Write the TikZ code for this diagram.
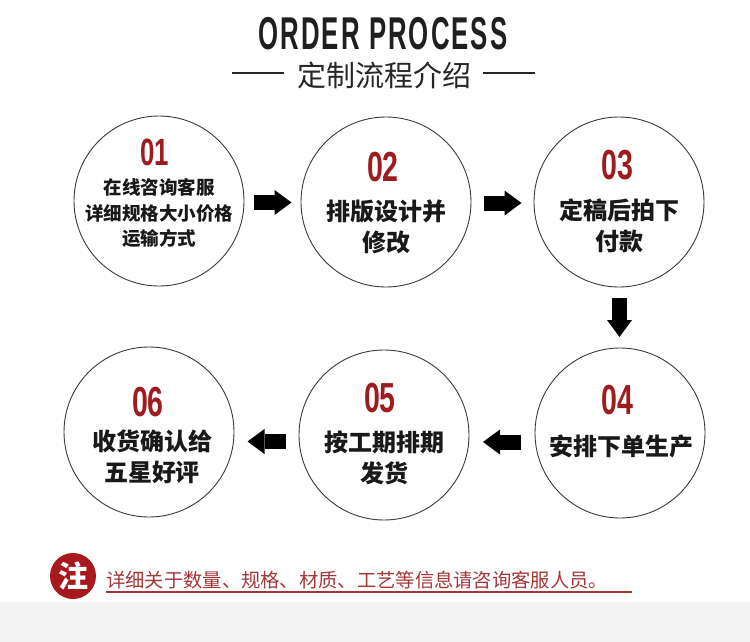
\documentclass[tikz,border=0pt]{standalone}
\usepackage{fontspec}
\usepackage{graphicx}
\setmainfont{Liberation Sans}
\newfontfamily\cjk{Noto Sans CJK SC}
\newfontfamily\headfont{Liberation Sans}[LetterSpace=8]
\usetikzlibrary{arrows.meta,calc}

\definecolor{numred}{HTML}{9E1B20}
\definecolor{notered}{HTML}{A8191E}
\definecolor{notetext}{HTML}{A53638}
\definecolor{ringgray}{HTML}{3A3A3A}
\definecolor{bandgray}{HTML}{F3F3F3}

\newcommand{\narrow}[2]{\scalebox{#1}[1]{#2}}

\begin{document}
\begin{tikzpicture}[x=1pt,y=-1pt,
  ring/.style={circle,draw=ringgray,line width=0.9pt,minimum size=170pt,inner sep=0pt},
  num/.style={text=numred,inner sep=0pt,font=\bfseries\fontsize{42}{42}\selectfont},
  desc/.style={align=center,inner sep=0pt,text=black!90,font=\cjk\bfseries\fontsize{24}{31}\selectfont},
  blockarr/.style={line width=15pt,-{Triangle[length=17pt,width=25pt,line width=0pt]}}]
\useasboundingbox (0,0) rectangle (750,642);

% heading
\node[inner sep=0pt,text=black!88,font=\headfont\bfseries\fontsize{46}{46}\selectfont] (title) at (383,34) {\narrow{0.56}{ORDER PROCESS}};
\node[inner sep=0pt,text=black!85,font=\cjk\fontsize{29}{29}\selectfont] (sub) at (384,75) {定制流程介绍};
\draw[line width=2pt,black!85] ($(sub.west)+(-13,-2)$) -- ++(-52,0);
\draw[line width=2pt,black!85] ($(sub.east)+(12,-2)$) -- ++(52,0);

% steps
\node[ring] (c1) at (159,201) {};
\node[ring] (c2) at (386,202) {};
\node[ring] (c3) at (619,202) {};
\node[ring] (c4) at (620,433) {};
\node[ring] (c5) at (384,435) {};
\node[ring] (c6) at (149,432) {};

\node[num,font=\bfseries\fontsize{38}{38}\selectfont] (n1) at (155,152) {\narrow{0.68}{01}};
\node[num] (n2) at (383,167) {\narrow{0.68}{02}};
\node[num] (n3) at (617,165) {\narrow{0.68}{03}};
\node[num] (n4) at (617,400) {\narrow{0.68}{04}};
\node[num] (n5) at (380,398) {\narrow{0.68}{05}};
\node[num] (n6) at (148,402) {\narrow{0.68}{06}};

\node[desc,font=\cjk\bfseries\fontsize{18.5}{25.5}\selectfont] (t1) at (159,213) {在线咨询客服\\详细规格大小价格\\运输方式};
\node[desc] (t2) at (386,226.5) {排版设计并\\修改};
\node[desc] (t3) at (619,226) {定稿后拍下\\付款};
\node[desc] (t4) at (621,446.5) {安排下单生产};
\node[desc] (t5) at (384,457.5) {按工期排期\\发货};
\node[desc] (t6) at (152,457) {收货确认给\\五星好评};

% arrows between steps
\coordinate (m12) at ($(c1.east)!0.5!(c2.west)+(0,1)$);
\coordinate (m23) at ($(c2.east)!0.5!(c3.west)+(0,1)$);
\coordinate (m34) at ($(c3.south)!0.5!(c4.north)$);
\coordinate (m45) at ($(c5.east)!0.5!(c4.west)+(0,8)$);
\coordinate (m56) at ($(c6.east)!0.5!(c5.west)+(0,8)$);
\draw[blockarr] ($(m12)+(-19,0)$) -- ($(m12)+(19,0)$);
\draw[blockarr] ($(m23)+(-19,0)$) -- ($(m23)+(19,0)$);
\draw[blockarr] ($(m34)+(0,-19.5)$) -- ($(m34)+(0,19.5)$);
\draw[blockarr] ($(m45)+(19,0)$) -- ($(m45)+(-19,0)$);
\draw[blockarr] ($(m56)+(19,0)$) -- ($(m56)+(-19,0)$);

% note
\fill[bandgray] (0,602) rectangle (750,642);
\node[circle,fill=notered,minimum size=46pt,inner sep=0pt,text=white,font=\cjk\bfseries\fontsize{30}{30}\selectfont] (mark) at (73,576) {注};
\node[anchor=west,inner sep=0pt,text=notetext,font=\cjk\fontsize{19.3}{19.3}\selectfont] (note) at (106,580) {详细关于数量、规格、材质、工艺等信息请咨询客服人员。};
\draw[notetext,line width=1.4pt] (note.west |- 0,592) -- (632,592);
\end{tikzpicture}
\end{document}
